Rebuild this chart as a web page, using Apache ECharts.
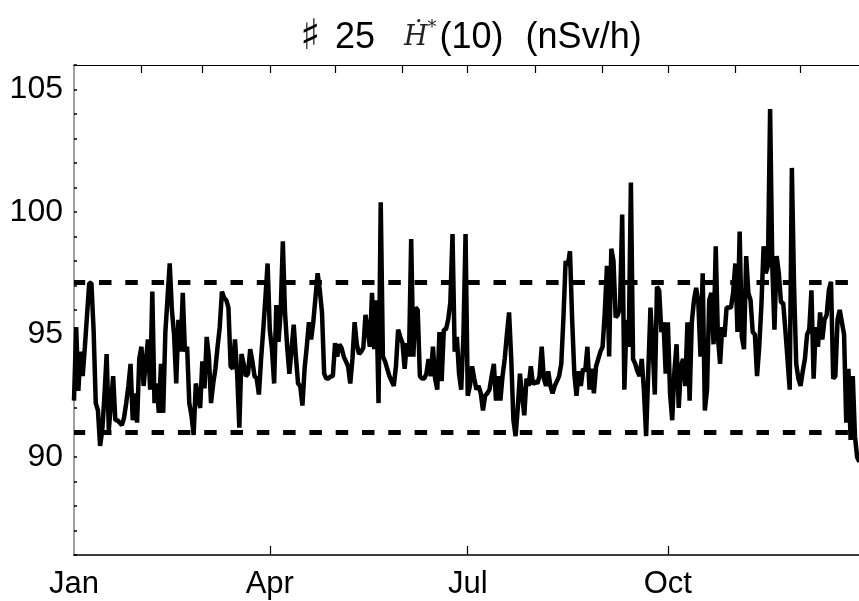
<!DOCTYPE html>
<html><head><meta charset="utf-8">
<script src="https://cdn.jsdelivr.net/npm/echarts@6/dist/echarts.min.js"></script>
<style>html,body{margin:0;padding:0;background:#fff}#c{width:859px;height:601px}</style>
</head><body><div id="c"></div>
<script>
// Daily H*(10) dose rate values (nSv/h), day 0 = Jan 1
const doseJanMar = [
  92.3, 95.3, 92.7, 94.3, 93.3, 94.5, 95.8, 97.1, 97.1, 95.2,
  92.2, 91.9, 90.45, 91.1, 92.5, 94.2, 91.1, 92.2, 93.3, 91.5,
  91.5, 91.4, 91.3, 91.6, 92.2, 92.9, 93.8, 91.5, 92.6, 91.4,
  94.0, 94.5, 92.9, 93.9, 94.8, 92.75, 96.75, 92.2, 93.0, 91.8,
  93.8, 91.8, 95.1, 96.5, 97.9, 96.0, 95.0, 93.0, 95.6, 94.3,
  96.7, 94.3, 94.5, 92.2, 91.7, 90.9, 93.0, 92.5, 92.0, 93.9,
  92.8, 94.9, 94.1, 92.2, 93.0, 93.6, 94.5, 95.3, 96.75, 96.5,
  96.4, 96.1, 93.7, 93.6, 94.8, 93.4, 91.2, 94.2, 93.8, 93.3,
  93.4, 94.4, 93.9, 93.3, 93.2, 92.55, 94.0, 95.2, 96.5, 97.9
];
const doseAprJun = [
  95.2, 94.4, 93.0, 96.2, 94.7, 95.9, 98.8, 95.9, 94.5, 93.4,
  94.4, 95.4, 94.1, 93.0, 92.9, 92.1, 93.6, 94.5, 95.5, 94.8,
  95.5, 96.5, 97.5, 96.8, 95.9, 93.4, 93.2, 93.2, 93.3, 93.3,
  94.65, 94.1, 94.6, 94.45, 94.1, 93.9, 93.7, 93.0, 94.0, 95.5,
  94.6, 94.2, 94.3, 94.45, 95.8, 95.2, 94.5, 96.7, 94.4, 96.4,
  92.2, 100.4, 94.1, 93.9, 93.6, 93.3, 93.1, 92.9, 93.7, 95.2,
  94.9, 94.65, 93.6, 94.65, 94.1, 98.9, 94.1, 96.1, 96.0, 93.3,
  93.2, 93.2, 93.4, 94.0, 93.3, 94.5, 93.2, 92.75, 95.1, 93.1,
  95.2, 95.2, 95.6, 96.3, 99.1, 94.3, 94.9, 93.4, 92.75, 94.9,
  99.1
];
const doseJulSep = [
  92.5, 92.9, 93.7, 93.2, 92.75, 92.9, 92.6, 91.9, 92.5,
  92.6, 92.75, 93.3, 93.8, 92.3, 93.3, 92.3, 93.3, 94.0, 95.0,
  95.9, 94.0, 91.5, 90.85, 92.0, 93.4, 92.5, 91.7, 93.2, 92.9,
  93.7, 92.96, 93.1, 93.0, 93.3, 94.5, 93.2, 92.9, 93.5, 92.9,
  92.6, 92.9, 93.1, 93.3, 93.8, 95.7, 98.0, 97.8, 98.4, 95.6,
  93.4, 92.5, 93.5, 92.9, 93.6, 93.5, 94.5, 92.75, 93.6, 92.6,
  93.7, 94.0, 94.3, 94.5, 95.9, 97.8, 94.1, 98.5, 98.0, 95.7,
  95.8, 96.1, 99.9, 92.75, 95.6, 94.5, 101.2, 94.0, 93.8, 93.5,
  93.3, 94.0, 92.7, 90.85, 93.5, 96.1, 94.5, 92.55, 96.95, 96.8,
  95.1, 95.5, 93.4
];
const doseOctDec = [
  95.5, 92.6, 91.5, 93.5, 94.6, 92.0, 93.7,
  94.0, 92.9, 95.5, 92.3, 95.5, 96.4, 96.9, 96.3, 94.1, 97.5,
  91.9, 92.75, 96.4, 96.7, 94.6, 98.6, 94.9, 93.8, 95.3, 94.9,
  96.1, 96.1, 96.1, 96.7, 97.9, 95.1, 99.2, 94.9, 94.4, 98.2,
  96.7, 96.4, 95.1, 95.0, 93.3, 94.5, 96.2, 98.6, 97.5, 97.8,
  104.2, 97.8, 95.2, 98.2, 97.5, 96.3, 96.3, 95.2, 94.0, 92.75,
  101.8, 97.0, 93.8, 93.2, 92.9, 93.5, 94.0, 95.0, 95.2, 96.8,
  93.2, 95.3, 94.5, 95.9, 94.8, 95.6, 95.8, 96.8, 97.15, 93.2,
  93.3, 95.6, 96.0, 95.5, 95.0, 91.4, 93.6, 90.7, 93.3, 90.85,
  90.0, 89.8
];
const thresholds = [97.15, 91.0];
const monthStartDays = [31, 59, 90, 120, 151, 181, 212, 243, 273, 304, 334];
const labelDays = [0, 90, 181, 273];
const labelNames = ['Jan', 'Apr', 'Jul', 'Oct'];
const yLabelValues = [90, 95, 100, 105];

const values = [].concat(doseJanMar, doseAprJun, doseJulSep, doseOctDec);
const seriesData = values.map((v, i) => [i, v]);

const chart = echarts.init(document.getElementById('c'));
chart.setOption({
  animation: false,
  title: {
    text: '{s|♯}{n|25}{h|Ḣ}{sup|*}{p|(10)}{q|(nSv/h)}',
    left: 293, top: 12,
    textStyle: {
      fontWeight: 'normal',
      rich: {
        s: {fontFamily: 'DejaVu Sans', fontSize: 42, fontWeight: 'bold', color: '#000', width: 25, align: 'center'},
        n: {fontFamily: 'Liberation Sans', fontSize: 36, fontWeight: 'normal', color: '#000', padding: [0, 0, 0, 12]},
        h: {fontFamily: 'DejaVu Serif', fontStyle: 'italic', fontWeight: 'normal', fontSize: 27, color: '#222', padding: [0, 0, 0, 29]},
        sup: {fontFamily: 'DejaVu Serif', fontSize: 18, fontWeight: 'normal', color: '#222', verticalAlign: 'top', padding: [2, 0, 0, 0]},
        p: {fontFamily: 'Liberation Sans', fontSize: 36, fontWeight: 'normal', color: '#000', padding: [0, 0, 0, 3]},
        q: {fontFamily: 'Liberation Sans', fontSize: 36, fontWeight: 'normal', color: '#000', padding: [0, 0, 0, 22]}
      }
    }
  },
  grid: {left: 74, top: 65, bottom: 46, width: 794, outerBoundsMode: 'none', containLabel: false},
  xAxis: [
    {
      type: 'value', position: 'bottom', min: 0, max: 365,
      axisLine: {lineStyle: {color: '#000', width: 1.5}},
      axisTick: {inside: true, length: 9, customValues: [90, 181, 273], lineStyle: {color: '#000', width: 1.2}},
      axisLabel: {
        customValues: labelDays,
        formatter: v => labelNames[labelDays.indexOf(v)] || '',
        fontFamily: 'Liberation Sans', fontSize: 31, color: '#000', margin: 14
      },
      splitLine: {show: false}
    },
    {
      type: 'value', position: 'top', min: 0, max: 365,
      axisLine: {lineStyle: {color: '#000', width: 1.2}},
      axisTick: {inside: true, length: 8, customValues: monthStartDays, lineStyle: {color: '#000', width: 1.2}},
      axisLabel: {show: false},
      splitLine: {show: false}
    }
  ],
  yAxis: {
    type: 'value', min: 86, max: 106, interval: 1,
    axisLine: {show: true, lineStyle: {color: '#808080', width: 1.5}},
    axisTick: {show: true, inside: true, length: 3, lineStyle: {color: '#000', width: 1.5}},
    axisLabel: {
      formatter: v => yLabelValues.includes(v) ? String(v) : '',
      fontFamily: 'Liberation Sans', fontSize: 32, color: '#000', margin: 11
    },
    splitLine: {show: false}
  },
  series: [{
    type: 'line', xAxisIndex: 0, data: seriesData,
    symbol: 'none', showSymbol: false,
    lineStyle: {color: '#000', width: 4.5, join: 'bevel'},
    markLine: {
      silent: true, symbol: ['none', 'none'], label: {show: false},
      lineStyle: {color: '#000', width: 5, type: [12.5, 13.8], dashOffset: 1.3},
      emphasis: {disabled: true},
      data: thresholds.map(v => ({yAxis: v}))
    }
  }]
});
</script>
</body></html>
